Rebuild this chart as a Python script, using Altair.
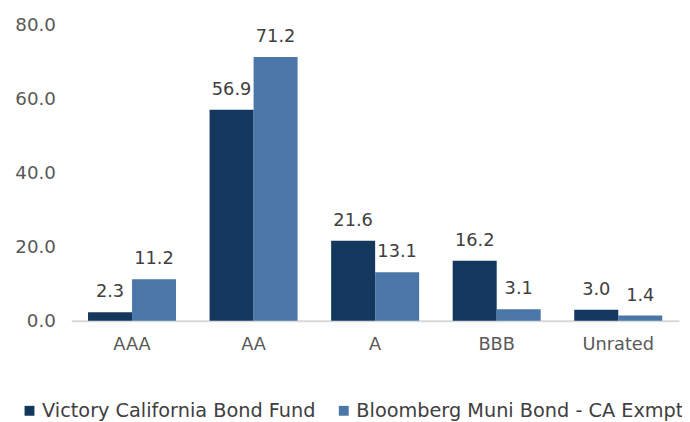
import altair as alt
import pandas as pd

categories = ["AAA", "AA", "A", "BBB", "Unrated"]
series_names = ["Victory California Bond Fund", "Bloomberg Muni Bond - CA Exmpt"]
fund_values = [2.3, 56.9, 21.6, 16.2, 3.0]
bench_values = [11.2, 71.2, 13.1, 3.1, 1.4]
colors = ["#14375e", "#4a77a8"]

rows = []
for c, v in zip(categories, fund_values):
    rows.append({"cat": c, "series": series_names[0], "value": v})
for c, v in zip(categories, bench_values):
    rows.append({"cat": c, "series": series_names[1], "value": v})
df = pd.DataFrame(rows)

FONT = "DejaVu Sans"

x = alt.X("cat:N", sort=categories, title=None,
          scale=alt.Scale(paddingInner=0.276, paddingOuter=0.138),
          axis=alt.Axis(labelAngle=0, labelFontSize=18, labelColor="#595959",
                        labelFont=FONT, domainColor="#d9d9d9", domainWidth=2,
                        ticks=False, labelPadding=15))
y = alt.Y("value:Q", title=None,
          scale=alt.Scale(domain=[0, 80]),
          axis=alt.Axis(values=[0, 20, 40, 60, 80], format=".1f", grid=False,
                        domain=False, ticks=False, labelFontSize=18.5,
                        labelColor="#595959", labelFont=FONT, labelPadding=16))
xo = alt.XOffset("series:N", sort=series_names)

bars = alt.Chart(df).mark_bar().encode(
    x=x, y=y, xOffset=xo,
    color=alt.Color("series:N", sort=series_names,
                    scale=alt.Scale(domain=series_names, range=colors),
                    legend=alt.Legend(title=None, orient="none", direction="horizontal",
                                      legendX=-52, legendY=381, symbolType="square",
                                      symbolSize=100, labelFontSize=19.5, labelFont=FONT,
                                      labelColor="#404040", columnPadding=18,
                                      symbolOffset=0, labelOffset=3, labelLimit=500,
                                      symbolStrokeWidth=0, padding=0)),
)

labels = alt.Chart(df).mark_text(baseline="bottom", dy=-11, fontSize=18, font=FONT,
                                 color="#404040").encode(
    x=x, y=y, xOffset=xo, text=alt.Text("value:Q", format=".1f"))

chart = (bars + labels).properties(
    width=615, height=300,
    autosize=alt.AutoSizeParams(type="none"),
    padding={"left": 64, "top": 14, "right": 3, "bottom": 100},
).configure(background="white").configure_view(stroke=None)

chart.save("out.html", embed_options={"renderer": "svg", "actions": False})
